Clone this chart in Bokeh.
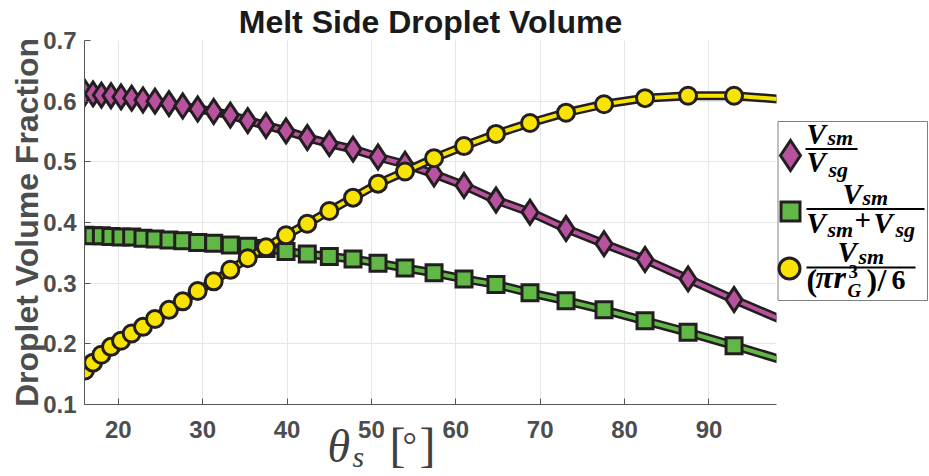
import math

from bokeh.plotting import figure
from bokeh.models import Range1d, FixedTicker, ColumnDataSource, GridBox
from bokeh.core.properties import value
from bokeh.embed import file_html
from bokeh.resources import INLINE

# --- data -----------------------------------------------------------------
# contact angle on the melt side, degrees
theta_s = [16.06, 17.01, 18.00, 19.14, 20.33, 21.59, 22.93, 24.35, 26.01, 27.64,
           29.41, 31.31, 33.28, 35.34, 37.51, 39.88, 42.40, 45.01, 47.82, 50.78,
           53.98, 57.42, 60.97, 64.76, 68.79, 73.06, 77.56, 82.42, 87.52, 92.97,
           99.70]

# V_sm / V_sg
ratio_sm_sg = [0.614, 0.612, 0.610, 0.609, 0.607, 0.605, 0.602, 0.600, 0.596, 0.592,
               0.587, 0.583, 0.577, 0.568, 0.560, 0.551, 0.540, 0.530, 0.521, 0.508,
               0.496, 0.480, 0.461, 0.437, 0.417, 0.390, 0.365, 0.339, 0.307, 0.273,
               0.233]

# V_sm / (V_sm + V_sg)
share_sm = [0.379, 0.378, 0.378, 0.377, 0.376, 0.376, 0.374, 0.373, 0.371, 0.370,
            0.367, 0.366, 0.363, 0.361, 0.357, 0.352, 0.348, 0.344, 0.340, 0.333,
            0.325, 0.317, 0.307, 0.298, 0.284, 0.271, 0.256, 0.238, 0.219, 0.197,
            0.169]

# V_sm / (pi r_G^3 / 6)
sphere_sm = [0.156, 0.169, 0.182, 0.195, 0.205, 0.217, 0.228, 0.241, 0.256, 0.270,
             0.287, 0.303, 0.322, 0.341, 0.359, 0.379, 0.398, 0.419, 0.441, 0.464,
             0.484, 0.506, 0.526, 0.546, 0.564, 0.581, 0.595, 0.605, 0.609, 0.609,
             0.602]

x_ticks = [20, 30, 40, 50, 60, 70, 80, 90]
y_ticks = [0.1, 0.2, 0.3, 0.4, 0.5, 0.6, 0.7]
y_tick_labels = ["0.1", "0.2", "0.3", "0.4", "0.5", "0.6", "0.7"]

# --- styling ----------------------------------------------------------------
EDGE = "#231f20"
GRAY = "#4d4d4d"
SANS = "Liberation Sans"
SERIF = "Liberation Serif"
W, H = 929, 476

series = [
    (ratio_sm_sg, "diamond", "#b8529e", 24),
    (share_sm, "square", "#62b847", 16),
    (sphere_sm, "circle", "#f9e300", 17),
]


def baseline(y, size_px):
    """Text glyph anchor for a wanted alphabetic baseline at page row y."""
    return y - 0.375 * size_px


# --- main plot --------------------------------------------------------------
p = figure(width=W, height=H,
           x_range=Range1d(16, 98), y_range=Range1d(0.1, 0.7),
           output_backend="svg", toolbar_location=None,
           min_border_left=84, min_border_right=153,
           min_border_top=40, min_border_bottom=72)
p.frame_align = False
p.outline_line_color = None
p.background_fill_color = "white"
p.border_fill_color = "white"

p.xaxis.ticker = FixedTicker(ticks=x_ticks)
p.yaxis.ticker = FixedTicker(ticks=y_ticks)
p.yaxis.major_label_overrides = {t: s for t, s in zip(y_ticks, y_tick_labels)}
p.axis.axis_line_color = "#555555"
p.axis.major_tick_line_color = "#555555"
p.axis.major_tick_in = 6
p.axis.major_tick_out = 0
p.axis.minor_tick_line_color = None
p.axis.major_label_text_font = SANS
p.axis.major_label_text_font_size = "24px"
p.axis.major_label_text_font_style = "bold"
p.axis.major_label_text_color = GRAY
p.yaxis.major_label_standoff = 8
p.xaxis.major_label_standoff = 16
p.grid.grid_line_color = "#e6e6e6"
p.grid.grid_line_width = 1

for vals, marker, color, size in series:
    p.line(theta_s, vals, line_color=EDGE, line_width=9, line_join="round")
    p.line(theta_s, vals, line_color=color, line_width=4, line_join="round")
    p.scatter(theta_s, vals, marker=marker, size=size, fill_color=color,
              line_color=EDGE, line_width=3, line_join="miter")

# --- overlay: titles, axis captions and legend (page pixel coordinates) -------
ov = figure(width=W, height=H, x_range=Range1d(0, W), y_range=Range1d(H, 0),
            output_backend="svg", toolbar_location=None, min_border=0,
            x_axis_type=None, y_axis_type=None)
ov.frame_align = False
ov.outline_line_color = None
ov.grid.visible = False
ov.background_fill_color = None
ov.border_fill_color = None

# title
ov.text(x=[430], y=[baseline(33, 32)], text=["Melt Side Droplet Volume"],
        text_align="center", text_baseline="alphabetic", text_font=value(SANS),
        text_font_size="32px", text_font_style="bold", text_color="#1a1a1a")

# y axis caption
ov.text(x=[26], y=[222], text=["Droplet Volume Fraction"], angle=math.pi / 2,
        text_align="center", text_baseline="middle", text_font=value(SANS),
        text_font_size="32px", text_font_style="bold", text_color=GRAY)

# x axis caption: theta_s [deg]
xlab = [
    ("θ", 327, 463, 46, "italic"),
    ("s", 352, 467, 30, "italic"),
    ("[", 389, 462, 48, "normal"),
    ("°", 402, 458, 36, "normal"),
    ("]", 419, 462, 48, "normal"),
]
ov.text(x=[q[1] for q in xlab], y=[baseline(q[2], q[3]) for q in xlab],
        text=[q[0] for q in xlab], text_font_size=[f"{q[3]}px" for q in xlab],
        text_font_style=[q[4] for q in xlab], text_font=value(SERIF),
        text_align="left", text_baseline="alphabetic", text_color="#404040")

# legend box
ov.quad(left=777.5, right=927, top=121, bottom=300, fill_color="white",
        line_color="#808080", line_width=1)

legend_markers = ColumnDataSource(dict(
    x=[790, 790, 789],
    y=[155, 211, 268],
    marker=[s[1] for s in series],
    color=[s[2] for s in series],
    size=[30, 19, 21],
))
ov.scatter("x", "y", source=legend_markers, marker="marker", size="size",
           fill_color="color", line_color=EDGE, line_width=3, line_join="miter")

# fraction bars
bars = ColumnDataSource(dict(x0=[805, 806, 806], x1=[857, 924, 915],
                             y=[148.5, 208.5, 267.0]))
ov.segment(x0="x0", y0="y", x1="x1", y1="y", source=bars,
           line_color="black", line_width=2)

BI = "bold italic"
pieces = [
    # V_sm / V_sg
    ("V", 806, 144, 29, BI), ("sm", 827, 145, 22, BI),
    ("V", 806, 172, 29, BI), ("sg", 828, 177, 22, BI),
    # V_sm / (V_sm + V_sg)
    ("V", 842, 204, 29, BI), ("sm", 862, 205, 22, BI),
    ("V", 806, 233, 29, BI), ("sm", 827, 237, 22, BI),
    ("+", 854, 231, 29, "bold"),
    ("V", 873, 233, 29, BI), ("sg", 895, 237, 22, BI),
    # V_sm / ((pi r_G^3)/6)
    ("V", 837, 262, 29, BI), ("sm", 858, 264, 22, BI),
    ("(", 806, 291, 32, "bold"), ("π", 815, 288, 32, BI),
    ("r", 833, 288, 32, BI), ("3", 848, 278, 19, "bold"),
    ("G", 847, 297, 19, BI), (")", 866, 291, 32, "bold"),
    ("/", 877, 291, 32, "bold"), ("6", 891, 290, 28, "bold"),
]
leg_src = ColumnDataSource(dict(
    text=[q[0] for q in pieces], x=[q[1] for q in pieces],
    y=[baseline(q[2], q[3]) for q in pieces],
    size=[f"{q[3]}px" for q in pieces], style=[q[4] for q in pieces]))
ov.text("x", "y", text="text", source=leg_src, text_font=value(SERIF),
        text_font_size="size", text_font_style="style", text_align="left",
        text_baseline="alphabetic", text_color="black")

# the overlay shares the grid cell with the plot and sits on top of it
layout = GridBox(children=[(p, 0, 0), (ov, 0, 0)])
open("out.html", "w").write(file_html(layout, INLINE))
